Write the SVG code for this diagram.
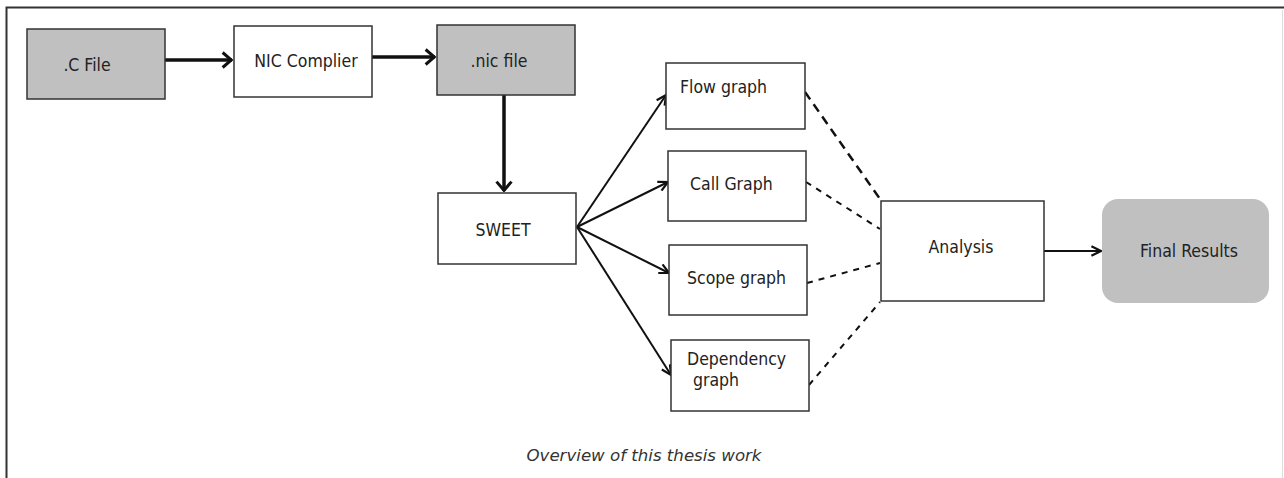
<svg xmlns="http://www.w3.org/2000/svg" width="1284" height="478" viewBox="0 0 1284 478">
<defs>
<style>
.box{stroke:#333;stroke-width:1.5;fill:#fff}
.gray{fill:#c0c0c0}
.t{font-family:"DejaVu Sans Condensed","DejaVu Sans",sans-serif;font-size:17.5px;fill:#222}
.thick{stroke:#111;stroke-width:3.5;fill:none}
.thin{stroke:#111;stroke-width:2;fill:none}
.dash1{stroke:#111;stroke-width:2.5;fill:none;stroke-dasharray:9 6}
.dash2{stroke:#111;stroke-width:2;fill:none;stroke-dasharray:6 6}
</style>
<marker id="ah" viewBox="0 0 10 14" refX="9" refY="7" markerWidth="3.6" markerHeight="5" orient="auto" markerUnits="strokeWidth">
<path d="M1.5,1 L8.5,7 L1.5,13" fill="none" stroke="#111" stroke-width="2.4"/>
</marker>
<marker id="ahs" viewBox="0 0 10 10" refX="9" refY="5" markerWidth="6" markerHeight="6" orient="auto" markerUnits="strokeWidth">
<path d="M1,1 L9,5 L1,9" fill="none" stroke="#111" stroke-width="1.8"/>
</marker>
</defs>
<rect x="0" y="0" width="1284" height="478" fill="#fff"/>
<g id="frame">
<path d="M6.5,478 V7.5 H1284" fill="none" stroke="#333" stroke-width="2"/>
<line x1="1282.5" y1="10" x2="1282.5" y2="478" stroke="#ddd" stroke-width="1"/>
</g>
<g id="connectors">
<line class="thick" x1="165" y1="60" x2="232" y2="60" marker-end="url(#ah)"/>
<line class="thick" x1="372" y1="57" x2="435" y2="57" marker-end="url(#ah)"/>
<line class="thick" x1="504" y1="95" x2="504" y2="191" marker-end="url(#ah)"/>
<line class="thin" x1="577" y1="227" x2="666" y2="95" marker-end="url(#ahs)"/>
<line class="thin" x1="577" y1="227" x2="668" y2="182" marker-end="url(#ahs)"/>
<line class="thin" x1="577" y1="227" x2="669" y2="273" marker-end="url(#ahs)"/>
<line class="thin" x1="577" y1="227" x2="671" y2="375" marker-end="url(#ahs)"/>
<line class="dash1" x1="805" y1="92" x2="880" y2="199"/>
<line class="dash2" x1="806" y1="182" x2="880" y2="229"/>
<line class="dash2" x1="807" y1="283" x2="880" y2="263"/>
<line class="dash2" x1="809" y1="385" x2="880" y2="302"/>
<line class="thin" x1="1044" y1="251" x2="1101" y2="251" stroke-width="2.5" marker-end="url(#ahs)"/>
</g>
<g id="cfile">
<rect class="box gray" x="27" y="29" width="138" height="70"/>
<text class="t" x="87" y="71" text-anchor="middle">.C File</text>
</g>
<g id="niccompiler">
<rect class="box" x="234" y="26" width="138" height="71"/>
<text class="t" x="306" y="67" text-anchor="middle">NIC Complier</text>
</g>
<g id="nicfile">
<rect class="box gray" x="437" y="25" width="138" height="70"/>
<text class="t" x="499" y="67" text-anchor="middle">.nic file</text>
</g>
<g id="sweet">
<rect class="box" x="438" y="193" width="138" height="71"/>
<text class="t" x="503" y="236" text-anchor="middle">SWEET</text>
</g>
<g id="flowgraph">
<rect class="box" x="666" y="63" width="139" height="66"/>
<text class="t" x="680" y="93">Flow graph</text>
</g>
<g id="callgraph">
<rect class="box" x="668" y="151" width="138" height="70"/>
<text class="t" x="690" y="190">Call Graph</text>
</g>
<g id="scopegraph">
<rect class="box" x="669" y="245" width="138" height="70"/>
<text class="t" x="687" y="284">Scope graph</text>
</g>
<g id="depgraph">
<rect class="box" x="671" y="340" width="138" height="71"/>
<text class="t" x="687" y="365">Dependency</text>
<text class="t" x="693" y="386">graph</text>
</g>
<g id="analysis">
<rect class="box" x="881" y="201" width="163" height="100"/>
<text class="t" x="961" y="253" text-anchor="middle">Analysis</text>
</g>
<g id="finalresults">
<rect x="1102" y="199" width="167" height="104" rx="16" ry="16" fill="#c0c0c0"/>
<text class="t" x="1189" y="257" text-anchor="middle">Final Results</text>
</g>
<g id="caption">
<text x="644" y="461" text-anchor="middle" font-family="DejaVu Sans Condensed, DejaVu Sans, sans-serif" font-style="italic" font-size="16" fill="#333" textLength="235" lengthAdjust="spacingAndGlyphs">Overview of this thesis work</text>
</g>
</svg>
